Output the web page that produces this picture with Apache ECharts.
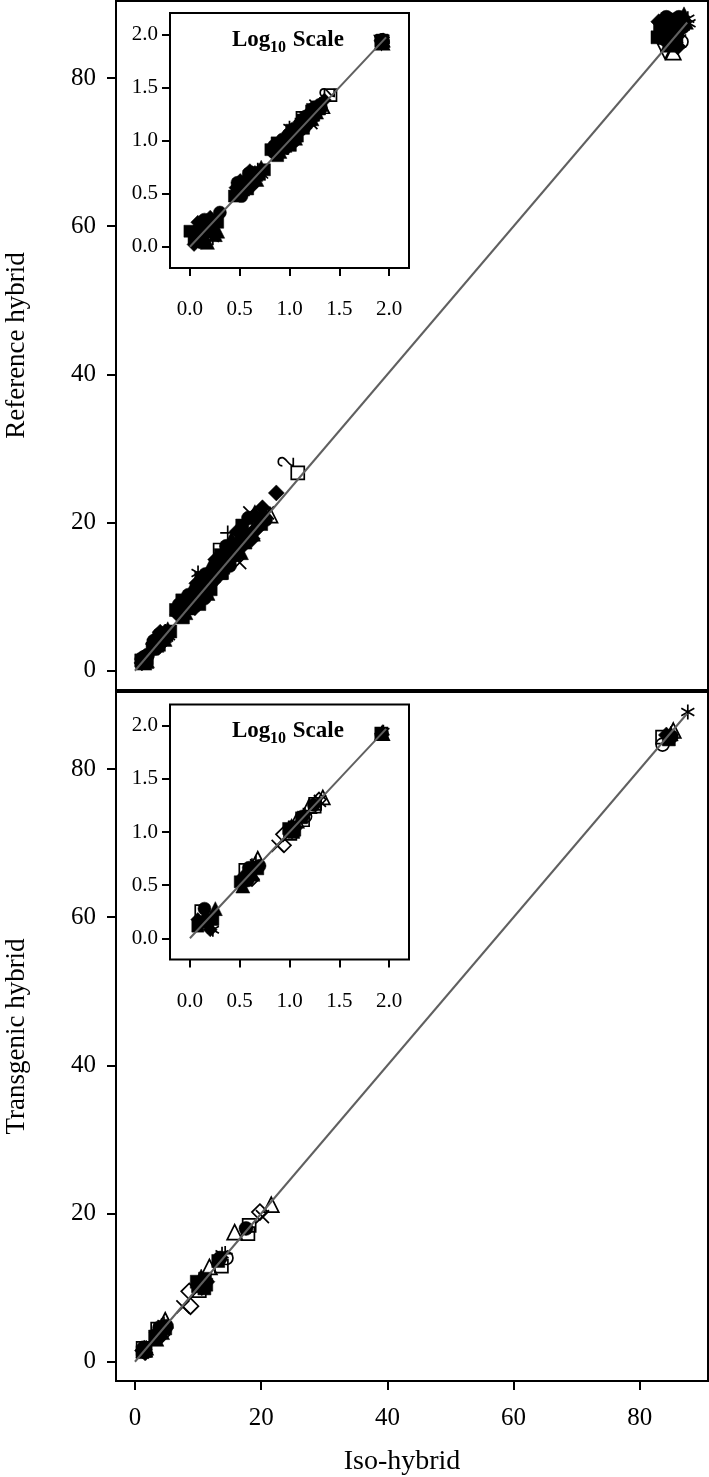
<!DOCTYPE html>
<html><head><meta charset="utf-8">
<script src="https://cdn.jsdelivr.net/npm/echarts@6/dist/echarts.min.js"></script>
<style>html,body{margin:0;padding:0;background:#fff}#c{width:709px;height:1477px}</style>
</head><body><div id="c"></div>
<script>
// ---------- tick labels / titles ----------
const mainTicks = [0, 20, 40, 60, 80];
const insetTicks = [0, 0.5, 1.0, 1.5, 2.0];
const identityLine = [0, 87.5];
const insetIdentityLine = [0, 1.97];
const xTitle = 'Iso-hybrid';
const yTitles = ['Reference hybrid', 'Transgenic hybrid'];
const insetTitleParts = ['Log', '10', ' Scale'];

// ---------- Reference hybrid vs Iso-hybrid  [iso, reference] ----------
const refFilledSquare = [[1.1,1.2],[1.7,1.6],[1.9,1.7],[1.4,1.5],[3.0,3.3],[3.8,3.5],[4.4,4.6],[5.0,4.8],[3.7,3.9],[7.2,8.0],[8.6,8.4],[9.8,10.6],[10.8,10.6],[11.6,11.5],[12.8,13.6],[14.0,13.9],[15.8,15.6],[17.5,17.3],[20.0,19.8],[6.5,8.2],[10.2,9.0],[12.0,11.0],[83.5,86.0],[85.5,87.5],[85.8,85.5],[85.2,87.9],[83.2,86.8],
  [7.5,9.5],[10.5,12.5],[13.6,15.6],[17.0,19.6],[8.0,9.0],[13.8,13.2],[7.6,7.2],[1.0,1.4],[2.8,3.0],[5.6,5.3],[82.8,85.5]];
const refFilledCircle = [[1.3,1.1],[1.4,1.8],[1.3,1.3],[1.6,1.5],[3.3,3.0],[4.0,4.1],[3.9,4.9],[4.1,4.3],[4.3,4.0],[7.8,8.6],[9.1,8.8],[10.0,9.7],[11.0,11.8],[12.0,11.9],[13.0,12.8],[14.6,14.4],[16.0,17.1],[18.1,18.0],[20.7,20.4],[7.0,8.9],[11.0,9.8],[84.0,87.0],[86.0,86.2],[86.8,86.9],[86.2,88.2],
  [8.5,10.2],[11.2,13.0],[14.5,16.8],[18.0,20.6],[9.2,9.8],[15.0,14.2],[11.8,12.2],[2.0,2.1],[3.0,4.0],[84.2,88.2]];
const refFilledTriangle = [[1.5,1.4],[1.8,1.3],[1.5,1.1],[3.5,3.8],[3.6,4.5],[4.7,4.3],[3.4,3.5],[4.6,4.8],[8.0,7.9],[9.4,10.1],[10.2,11.0],[11.2,11.0],[12.2,13.1],[13.5,13.3],[14.9,15.8],[16.6,17.6],[18.7,18.5],[9.0,9.0],[11.5,10.5],[84.5,85.5],[86.5,87.8],[87.3,87.6],[84.4,84.5],
  [9.0,11.0],[12.0,14.2],[15.3,17.8],[19.0,21.4],[10.8,11.0],[16.8,16.0],[14.0,15.0],[1.9,1.4],[5.2,5.6],[87.0,88.6]];
const refFilledDiamond = [[1.2,1.5],[1.6,1.9],[1.2,1.7],[3.2,4.2],[4.2,3.7],[4.5,5.0],[3.1,3.7],[8.3,9.2],[9.6,9.3],[10.4,10.2],[11.4,12.3],[12.5,12.4],[13.8,14.8],[15.2,15.0],[16.9,16.7],[19.3,19.1],[8.2,8.1],[9.5,8.5],[22.4,24.0],[85.0,86.8],[84.8,86.3],[83.8,85.2],[85.6,84.8],
  [9.8,11.8],[12.8,15.0],[16.2,18.8],[20.2,22.0],[12.4,12.0],[18.6,17.8],[6.8,7.6],[17.4,18.6],[19.8,20.6],[1.1,1.05],[4.0,5.2],[2.9,3.6],[83.0,87.6],[86.0,84.2]];
const refOpenSquare = [[13.2,14.1],[17.2,18.2],[19.6,20.4],[13.5,16.3],[25.8,26.7]];
const refOpenCircle = [[86.6,84.9]];
const refOpenTriangle = [[15.5,16.4],[21.4,21.0],[85.3,83.5]];
const refOpenDiamond = [[18.4,19.4]];
const refDownTriangle = [[84.0,83.6]];
const refAsterisk = [[1.7,1.2],[4.8,5.3],[8.9,9.6],[14.3,15.3],[17.8,18.9],[20.3,20.9],[10.0,13.2],[87.6,88.0],[87.8,87.4]];
const refCross = [[5.3,5.0],[10.6,11.4],[16.3,16.2],[19.0,20.0],[21.0,21.3],[16.6,14.6],[18.2,21.3],[86.3,85.0]];
const refPlus = [[1.8,1.8],[3.5,4.4],[11.8,12.7],[14.7,18.6]];
const refTwo = [[23.9,28.2]];

// ---------- Transgenic hybrid vs Iso-hybrid  [iso, transgenic] ----------
const tgFilledSquare = [[1.2,1.3],[1.7,1.5],[3.2,3.4],[4.0,4.3],[4.8,4.5],[10.0,10.2],[11.1,11.2],[11.0,9.9],[13.2,13.6],[84.6,84.0],[9.8,10.8],[11.3,10.4]];
const tgFilledCircle = [[1.5,1.4],[3.8,3.5],[5.0,4.8],[10.8,10.3],[13.5,14.0],[17.6,18.0],[85.0,84.4],[1.4,1.9],[3.9,4.6]];
const tgFilledTriangle = [[1.4,1.6],[1.8,1.9],[4.3,4.0],[3.4,3.1],[10.5,11.5],[84.9,84.8],[4.2,4.9]];
const tgFilledDiamond = [[1.6,1.2],[1.2,1.5],[3.5,3.9],[4.5,4.6],[10.4,10.8],[11.4,10.8],[84.2,84.6],[10.6,10.0]];
const tgOpenSquare = [[1.3,1.8],[3.6,4.4],[10.2,9.6],[13.7,12.9],[17.9,17.3],[18.1,18.4],[83.6,84.3]];
const tgOpenCircle = [[14.5,14.0],[83.6,83.3]];
const tgOpenTriangle = [[1.5,1.7],[4.8,5.6],[11.8,12.8],[15.8,17.5],[21.6,21.2],[85.3,85.2]];
const tgOpenDiamond = [[4.2,3.6],[8.8,7.5],[8.6,9.5],[19.8,20.2]];
const tgAsterisk = [[1.7,1.2],[4.6,5.1],[10.7,10.9],[13.8,14.5],[87.6,87.7]];
const tgCross = [[7.6,7.4],[20.2,19.6]];
const tgPlus = [[14.3,14.6]];

// ---------- marker styles ----------
const SHAPES = {
  filledSquare:   {symbol:'rect', fill:true, size:13},
  filledCircle:   {symbol:'circle', fill:true, size:14},
  filledTriangle: {symbol:'triangle', fill:true, size:15},
  filledDiamond:  {symbol:'diamond', fill:true, size:16},
  openSquare:     {symbol:'rect', fill:false, size:13},
  openCircle:     {symbol:'circle', fill:false, size:13},
  openTriangle:   {symbol:'triangle', fill:false, size:15},
  openDiamond:    {symbol:'diamond', fill:false, size:16},
  downTriangle:   {symbol:'triangle', fill:false, size:15, rotate:180},
  asterisk:       {symbol:'path://M0,-10L0,10M-8.66,-5L8.66,5M-8.66,5L8.66,-5', fill:false, size:15},
  cross:          {symbol:'path://M-7,-7L7,7M-7,7L7,-7', fill:false, size:13},
  plus:           {symbol:'path://M0,-10L0,10M-10,0L10,0', fill:false, size:15},
  two:            {symbol:'path://M1,3C1,0.8 2.8,0 4,0C5.8,0 7,1.3 7,3C7,5.5 1,8 1,11L7,11', fill:false, size:15, rotate:90}
};

const refGroups = {filledSquare:refFilledSquare, filledCircle:refFilledCircle, filledTriangle:refFilledTriangle, filledDiamond:refFilledDiamond,
  openSquare:refOpenSquare, openCircle:refOpenCircle, openTriangle:refOpenTriangle, openDiamond:refOpenDiamond, downTriangle:refDownTriangle,
  asterisk:refAsterisk, cross:refCross, plus:refPlus, two:refTwo};
const tgGroups = {filledSquare:tgFilledSquare, filledCircle:tgFilledCircle, filledTriangle:tgFilledTriangle, filledDiamond:tgFilledDiamond,
  openSquare:tgOpenSquare, openCircle:tgOpenCircle, openTriangle:tgOpenTriangle, openDiamond:tgOpenDiamond,
  asterisk:tgAsterisk, cross:tgCross, plus:tgPlus};

const toLog = arr => arr.map(p => [Math.log10(p[0]), Math.log10(p[1])]);

function scatterSeries(groups, axisIdx, scale, log) {
  return Object.keys(groups).map(k => {
    const s = SHAPES[k];
    return {
      type:'scatter', xAxisIndex:axisIdx, yAxisIndex:axisIdx,
      data: log ? toLog(groups[k]) : groups[k],
      symbol:s.symbol, symbolSize:Math.round(s.size*scale), symbolRotate:s.rotate||0,
      symbolKeepAspect:true, silent:true, animation:false, z:3,
      itemStyle: s.fill ? {color:'#000', borderColor:'#000', borderWidth:0.5, opacity:1}
                        : {color:'none', borderColor:'#000', borderWidth:1.7, opacity:1}
    };
  });
}
function diagSeries(ends, axisIdx) {
  return {type:'line', xAxisIndex:axisIdx, yAxisIndex:axisIdx, data:[[ends[0],ends[0]],[ends[1],ends[1]]],
    symbol:'none', silent:true, animation:false, z:5, lineStyle:{color:'#606060', width:2}};
}

const FONT = '"Liberation Serif", "Times New Roman", serif';
const mainLeft = 116, mainW = 592;
const grids = [
  {left:mainLeft, top:1, width:mainW, height:689},
  {left:mainLeft, top:692, width:mainW, height:689},
  {left:170, top:13, width:239, height:255},
  {left:170, top:704.5, width:239, height:255}
].map(g => Object.assign({show:true, borderColor:'#000', borderWidth:2, backgroundColor:'#fff',
  containLabel:false, outerBoundsMode:'none'}, g));

function mainX(idx, showLabels) {
  return {type:'value', gridIndex:idx, min:-3, max:90.8, splitLine:{show:false}, axisLine:{show:false, onZero:false},
    axisTick:{show:showLabels, inside:false, length:9, lineStyle:{color:'#000', width:2}, customValues:mainTicks},
    axisLabel:{show:showLabels, customValues:mainTicks, margin:25, color:'#000', fontSize:25, fontFamily:FONT},
    name: showLabels ? xTitle : '', nameLocation:'middle', nameGap:67,
    nameTextStyle:{color:'#000', fontSize:28, fontFamily:FONT, padding:[0,20,0,0]}};
}
function mainY(idx, title) {
  return {type:'value', gridIndex:idx, min:-2.6, max:90.4, splitLine:{show:false}, axisLine:{show:false, onZero:false},
    axisTick:{show:true, length:9, lineStyle:{color:'#000', width:2}, customValues:mainTicks},
    axisLabel:{customValues:mainTicks, margin:20, color:'#000', fontSize:25, fontFamily:FONT},
    name:title, nameLocation:'middle', nameGap:86, nameRotate:90,
    nameTextStyle:{color:'#000', fontSize:27, fontFamily:FONT}};
}
function insetAxis(idx, isX) {
  return {type:'value', gridIndex:idx, min:-0.2, max:2.2, splitLine:{show:false}, axisLine:{show:false, onZero:false},
    axisTick:{show:true, length:8, lineStyle:{color:'#000', width:2}, customValues:insetTicks},
    axisLabel:{customValues:insetTicks, margin:isX ? 31 : 12, color:'#000', fontSize:21, fontFamily:FONT,
      formatter: v => Number(v).toFixed(1)}};
}

const series = [].concat(
  scatterSeries(refGroups, 0, 1, false), [diagSeries(identityLine, 0)],
  scatterSeries(tgGroups, 1, 1, false), [diagSeries(identityLine, 1)],
  scatterSeries(refGroups, 2, 0.9, true), [diagSeries(insetIdentityLine, 2)],
  scatterSeries(tgGroups, 3, 0.9, true), [diagSeries(insetIdentityLine, 3)]
);

function insetTitle(yMid) {
  const bold = 'bold 23px ' + FONT;
  return [
    {type:'text', z:10, style:{text:insetTitleParts[0], x:232, y:yMid, font:bold, fill:'#000', textAlign:'left', textVerticalAlign:'middle'}},
    {type:'text', z:10, style:{text:insetTitleParts[1], x:270, y:yMid+8, font:'bold 16px ' + FONT, fill:'#000', textAlign:'left', textVerticalAlign:'middle'}},
    {type:'text', z:10, style:{text:insetTitleParts[2], x:287, y:yMid, font:bold, fill:'#000', textAlign:'left', textVerticalAlign:'middle'}}
  ];
}

const chart = echarts.init(document.getElementById('c'), null, {renderer:'canvas'});
chart.setOption({
  animation:false,
  backgroundColor:'#fff',
  grid: grids,
  xAxis: [mainX(0,false), mainX(1,true), insetAxis(2,true), insetAxis(3,true)],
  yAxis: [mainY(0,yTitles[0]), mainY(1,yTitles[1]), insetAxis(2,false), insetAxis(3,false)],
  series: series,
  graphic: insetTitle(40).concat(insetTitle(731))
});
</script></body></html>
